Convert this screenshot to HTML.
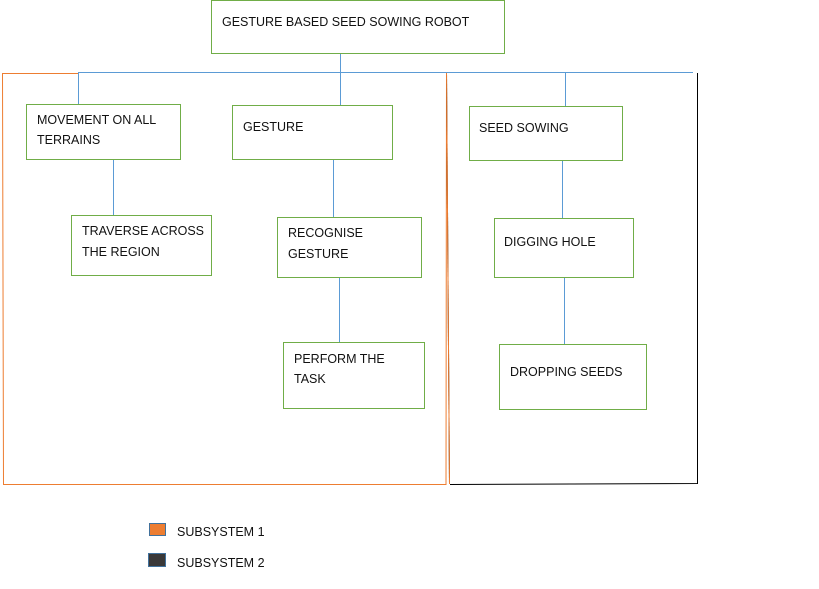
<!DOCTYPE html>
<html><head><style>
body{margin:0;background:#fff;}
svg text{font-family:"Liberation Sans",sans-serif;font-size:12.5px;fill:#111;}
</style></head><body>
<svg width="819" height="584" xmlns="http://www.w3.org/2000/svg">
<g fill="none" stroke="#5b9bd5" stroke-width="1">
<line x1="340.5" y1="54" x2="340.5" y2="105"/>
<line x1="78" y1="72.5" x2="693" y2="72.5"/>
<line x1="78.5" y1="72" x2="78.5" y2="105"/>
<line x1="565.5" y1="72" x2="565.5" y2="112"/>
<line x1="113.5" y1="160" x2="113.5" y2="215"/>
<line x1="333.5" y1="160" x2="333.5" y2="217"/>
<line x1="339.5" y1="277" x2="339.5" y2="342"/>
<line x1="562.5" y1="160" x2="562.5" y2="218"/>
<line x1="564.5" y1="277" x2="564.5" y2="344"/>
</g>
<g fill="none" stroke="#ed7d31" stroke-width="1">
<polyline points="78,73.5 2.5,73.5 3.5,484.5 446,484.5 446.5,73"/>
</g>
<g fill="none" stroke="#000" stroke-width="1">
<polyline points="450,484.5 697.5,483.5 697.5,73"/>
<line x1="446.5" y1="73" x2="449.5" y2="484"/>
</g>
<line x1="446.5" y1="73" x2="449.5" y2="484" stroke="#ed7d31"/>
<g fill="#fff" stroke="#70ad47" stroke-width="1">
<rect x="211.5" y="0.5" width="293" height="53"/>
<rect x="26.5" y="104.5" width="154" height="55"/>
<rect x="232.5" y="105.5" width="160" height="54"/>
<rect x="71.5" y="215.5" width="140" height="60"/>
<rect x="277.5" y="217.5" width="144" height="60"/>
<rect x="283.5" y="342.5" width="141" height="66"/>
<rect x="469.5" y="106.5" width="153" height="54"/>
<rect x="494.5" y="218.5" width="139" height="59"/>
<rect x="499.5" y="344.5" width="147" height="65"/>
</g>
<text x="222" y="26">GESTURE BASED SEED SOWING ROBOT</text>
<text x="37" y="124">MOVEMENT ON ALL</text>
<text x="37" y="144">TERRAINS</text>
<text x="243" y="131">GESTURE</text>
<text x="82" y="235">TRAVERSE ACROSS</text>
<text x="82" y="256">THE REGION</text>
<text x="288" y="237">RECOGNISE</text>
<text x="288" y="258">GESTURE</text>
<text x="294" y="363">PERFORM THE</text>
<text x="294" y="383">TASK</text>
<text x="479" y="132">SEED SOWING</text>
<text x="504" y="246">DIGGING HOLE</text>
<text x="510" y="376">DROPPING SEEDS</text>
<rect x="149.5" y="523.5" width="16" height="12" fill="#ed7d31" stroke="#41719c"/>
<rect x="148.5" y="553.5" width="17" height="13" fill="#3a3838" stroke="#41719c"/>
<text x="177" y="536">SUBSYSTEM 1</text>
<text x="177" y="567">SUBSYSTEM 2</text>
</svg>
</body></html>
